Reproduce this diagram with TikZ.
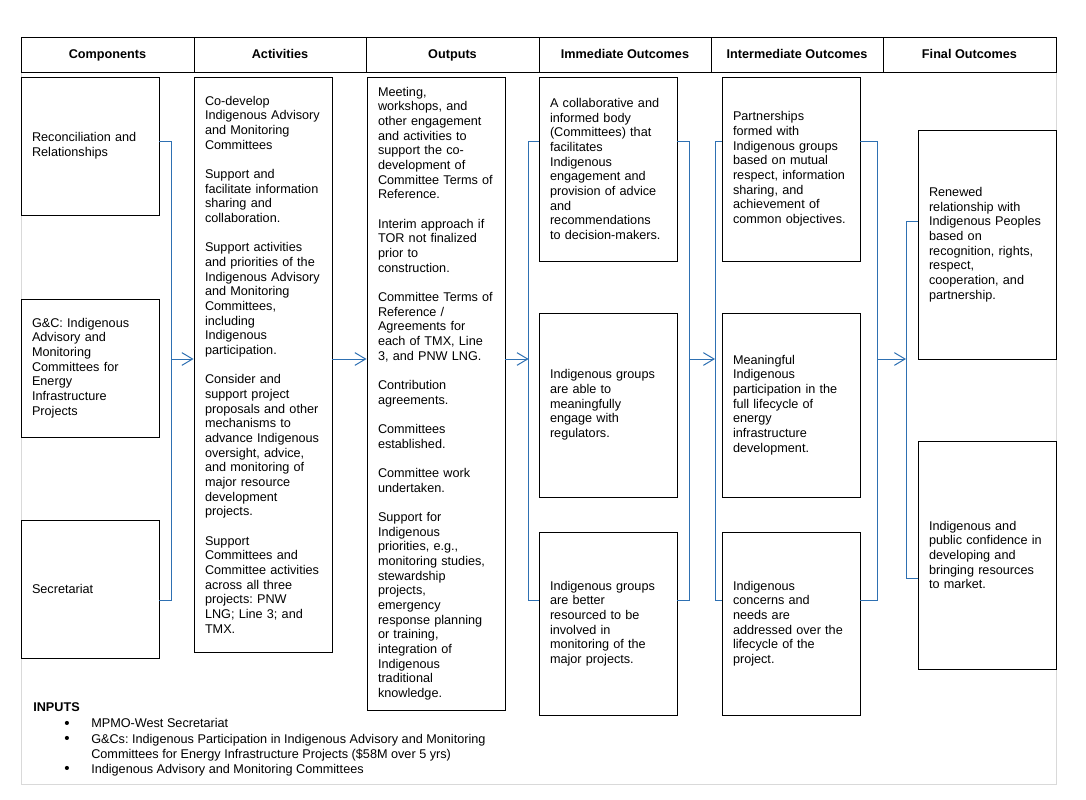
\documentclass[tikz,border=0pt]{standalone}
\usepackage{fontspec}
\setmainfont{Liberation Sans}
\usetikzlibrary{arrows.meta}
\definecolor{linkblue}{RGB}{46,112,178}
\definecolor{framegray}{RGB}{217,217,217}
\frenchspacing
\begin{document}
\begin{tikzpicture}[line cap=butt,line join=miter,x=0.75pt,y=-0.75pt,
	font=\fontsize{9.5}{11}\selectfont,>={Straight Barb[length=8pt,width=9.5pt]}]
	\tikzset{box/.style={draw,line width=0.7pt,text width=87pt,inner xsep=8.25pt,align=left,minimum height=#1*0.75pt},
		head/.style={draw,line width=0.7pt,minimum height=35*0.75pt,text height=8pt,text depth=2pt,font=\fontsize{9.5}{11}\selectfont\bfseries},
		link/.style={draw=linkblue,line width=0.75pt}}
	\useasboundingbox (0,0) rectangle (1086,800);
	\draw[framegray,line width=0.75pt] (21,72)--(21,784)--(1056,784)--(1056,72);
	% header row
	\foreach \xa/\xb/\t [count=\i] in {21/194/Components,194/366/Activities,366/539/Outputs,
		539/711/Immediate Outcomes,711/883/Intermediate Outcomes,883/1056/Final Outcomes}
	\node[head,minimum width={(\xb-\xa)*0.75pt}] (h\i) at ({(\xa+\xb)/2},54.5) {\t};
	% components
	\node[box=138] (c1) at (90,146) {Reconciliation and\\Relationships};
	\node[box=138] (c2) at (90,368) {G\&C: Indigenous\\Advisory and\\Monitoring\\Committees for\\Energy\\Infrastructure\\Projects};
	\node[box=138] (c3) at (90,589) {Secretariat};
	% activities
	\node[box=575] (a1) at (263,364.5) {Co-develop\\Indigenous Advisory\\and Monitoring\\Committees\\[11pt]
		Support and\\facilitate information\\sharing and\\collaboration.\\[11pt]
		Support activities\\and priorities of the\\Indigenous Advisory\\and Monitoring\\Committees,\\including\\Indigenous\\participation.\\[11pt]
		Consider and\\support project\\proposals and other\\mechanisms to\\advance Indigenous\\oversight, advice,\\and monitoring of\\major resource\\development\\projects.\\[11pt]
		Support\\Committees and\\Committee activities\\across all three\\projects: PNW\\LNG; Line 3; and\\TMX.};
	% outputs
	\node[box=633] (o1) at (436,393.5) {Meeting,\\workshops, and\\other engagement\\and activities to\\support the co-\\development of\\Committee Terms of\\Reference.\\[11pt]
		Interim approach if\\TOR not finalized\\prior to\\construction.\\[11pt]
		Committee Terms of\\Reference /\\Agreements for\\each of TMX, Line\\3, and PNW LNG.\\[11pt]
		Contribution\\agreements.\\[11pt]
		Committees\\established.\\[11pt]
		Committee work\\undertaken.\\[11pt]
		Support for\\Indigenous\\priorities, e.g.,\\monitoring studies,\\stewardship\\projects,\\emergency\\response planning\\or training,\\integration of\\Indigenous\\traditional\\knowledge.};
	% immediate outcomes
	\node[box=184] (m1) at (608,169) {A collaborative and\\informed body\\(Committees) that\\facilitates\\Indigenous\\engagement and\\provision of advice\\and\\recommendations\\to decision-makers.};
	\node[box=184] (m2) at (608,405) {Indigenous groups\\are able to\\meaningfully\\engage with\\regulators.};
	\node[box=183] (m3) at (608,623.5) {Indigenous groups\\are better\\resourced to be\\involved in\\monitoring of the\\major projects.};
	% intermediate outcomes
	\node[box=184] (n1) at (791,169) {Partnerships\\formed with\\Indigenous groups\\based on mutual\\respect, information\\sharing, and\\achievement of\\common objectives.};
	\node[box=184] (n2) at (791,405) {Meaningful\\Indigenous\\participation in the\\full lifecycle of\\energy\\infrastructure\\development.};
	\node[box=183] (n3) at (791,623.5) {Indigenous\\concerns and\\needs are\\addressed over the\\lifecycle of the\\project.};
	% final outcomes
	\node[box=229] (f1) at (987,244.5) {Renewed\\relationship with\\Indigenous Peoples\\based on\\recognition, rights,\\respect,\\cooperation, and\\partnership.};
	\node[box=228] (f2) at (987,555) {Indigenous and\\public confidence in\\developing and\\bringing resources\\to market.};
	% brackets
	\foreach \k/\x/\ya/\yb in {1/171.7/141.7/600,2/528.6/141.7/600,3/689/141.7/600,4/715/141.7/600,5/877/141.7/600,6/906/221.7/578}{
		\coordinate (k\k t) at (\x,\ya);
		\coordinate (k\k b) at (\x,\yb);
		\coordinate (k\k m) at (\x,359);}
	\draw[link] (c1.east |- k1t)--(k1t)--(k1b)--(c3.east |- k1b);
	\draw[link] (m1.west |- k2t)--(k2t)--(k2b)--(m3.west |- k2b);
	\draw[link] (m1.east |- k3t)--(k3t)--(k3b)--(m3.east |- k3b);
	\draw[link] (n1.west |- k4t)--(k4t)--(k4b)--(n3.west |- k4b);
	\draw[link] (n1.east |- k5t)--(k5t)--(k5b)--(n3.east |- k5b);
	\draw[link] (f1.west |- k6t)--(k6t)--(k6b)--(f2.west |- k6b);
	\draw[link,->] (k1m)--(a1.west |- k1m);
	\draw[link,->] (a1.east |- k1m)--(o1.west |- k1m);
	\draw[link,->] (o1.east |- k2m)--(k2m);
	\draw[link,->] (k3m)--(k4m);
	\draw[link,->] (k5m)--(k6m);
	% inputs
	\node[anchor=base west,inner sep=0pt,font=\fontsize{9.5}{11}\selectfont\bfseries] (inp) at (33,711) {INPUTS};
	\foreach \y [count=\i] in {728,743,773.5}
	\node[anchor=base,scale=1.2] (dot\i) at (67,\y) {\textbullet};
	\foreach \y/\t [count=\i] in {727.5/MPMO-West Secretariat,
		743/G\&Cs: Indigenous Participation in Indigenous Advisory and Monitoring,
		758/Committees for Energy Infrastructure Projects (\$58M over 5 yrs),
		773.5/Indigenous Advisory and Monitoring Committees}
	\node[anchor=base west,inner sep=0pt] (in\i) at (91,\y) {\t};
\end{tikzpicture}
\end{document}
